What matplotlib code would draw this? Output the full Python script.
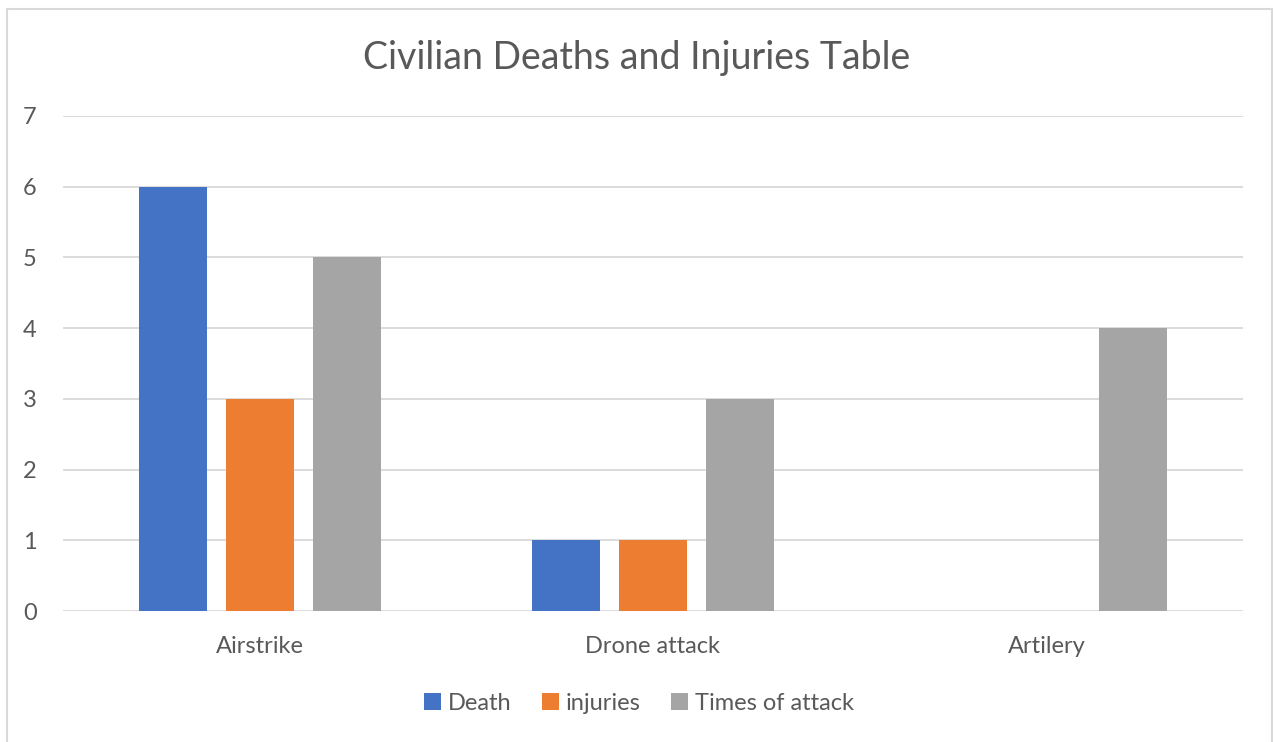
import matplotlib.pyplot as plt
import numpy as np
from matplotlib.patches import Rectangle

categories = ["Airstrike", "Drone attack", "Artilery"]
death = [6, 1, 0]
injuries = [3, 1, 0]
times_of_attack = [5, 3, 4]
series_names = ["Death", "injuries", "Times of attack"]
colors = ["#4472C4", "#ED7D31", "#A5A5A5"]

plt.rcParams['font.family'] = ['Lato', 'DejaVu Sans']
text_color = "#595959"

fig = plt.figure(figsize=(12.73, 7.42), dpi=100)
fig.patches.append(Rectangle((7 / 1273, -0.01), 1265 / 1273, 1 - 9 / 742 + 0.01,
                             transform=fig.transFigure, fill=False,
                             edgecolor="#d9d9d9", linewidth=1.5))
ax = fig.add_axes([63 / 1273, 1 - 611 / 742, 1180 / 1273, 495 / 742])

x = np.arange(len(categories))
width = 0.173
step = 0.221
for i, (vals, name) in enumerate(zip([death, injuries, times_of_attack], series_names)):
    ax.bar(x + (i - 1) * step, vals, width, color=colors[i], label=name, zorder=3)

ax.set_xlim(-0.5, 2.5)
ax.set_ylim(0, 7)
ax.set_yticks(range(0, 8))
ax.grid(axis='y', color="#d9d9d9", linewidth=1.3, zorder=0)
for s in ax.spines.values():
    s.set_visible(False)
ax.tick_params(length=0, labelsize=17, labelcolor=text_color)
ax.tick_params(axis='y', pad=19)
ax.tick_params(axis='x', pad=18)
ax.set_xticks(x)
ax.set_xticklabels(categories)

fig.text(0.5, 1 - 58 / 742, "Civilian Deaths and Injuries Table", ha='center', va='center',
         fontsize=27, color=text_color)

leg = fig.legend(loc='center', bbox_to_anchor=(0.502, 1 - 703 / 742), ncol=3, frameon=False,
                 fontsize=17, handlelength=0.7, handleheight=0.7, handletextpad=0.3,
                 columnspacing=1.3, labelcolor=text_color)

fig.savefig("out.png", dpi=100)
